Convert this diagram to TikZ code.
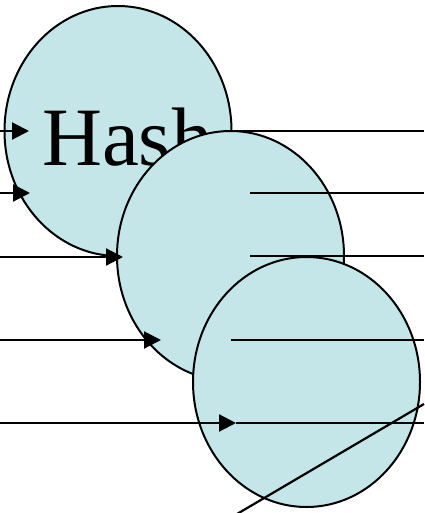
\documentclass[tikz,border=0pt]{standalone}
\usepackage{fontspec}
\setmainfont{Liberation Serif}
\usetikzlibrary{arrows.meta,shapes.geometric}
\definecolor{hashfill}{RGB}{196,230,233}
\begin{document}
\begin{tikzpicture}[x=1pt,y=-1pt,
  hashunit/.style={ellipse,draw=black,line width=2pt,fill=hashfill,
    minimum width=227pt,minimum height=250pt,inner sep=0pt},
  wire/.style={line width=2.2pt},
  feed/.style={wire,-{Triangle[length=17pt,width=17pt]}}]
\useasboundingbox (0,0) rectangle (424,513);

% first hash unit with its two inputs and one output
\node[hashunit] (h1) at (118,131) {};
\node[anchor=base west,inner sep=0pt,font=\fontsize{83}{90}\selectfont] (lbl) at (42,165) {Hash};
\coordinate (i1s) at (0,131);   \coordinate (i1e) at (29,131);
\coordinate (i2s) at (0,193);   \coordinate (i2e) at (30,193);
\coordinate (o1s) at (231,131); \coordinate (o1e) at (424,131);
\draw[feed] (i1s) -- (i1e);
\draw[feed] (i2s) -- (i2e);
\draw[wire] (o1s) -- (o1e);

% second hash unit
\node[hashunit] (h2) at (230.5,256) {};
\coordinate (i3s) at (0,257);   \coordinate (i3e) at (123,257);
\coordinate (i4s) at (0,340);   \coordinate (i4e) at (161,340);
\coordinate (o2s) at (250,193); \coordinate (o2e) at (424,193);
\coordinate (o3s) at (250,256); \coordinate (o3e) at (424,256);
\draw[feed] (i3s) -- (i3e);
\draw[feed] (i4s) -- (i4e);
\draw[wire] (o2s) -- (o2e);
\draw[wire] (o3s) -- (o3e);

% third hash unit
\node[hashunit] (h3) at (306.5,382) {};
\coordinate (i5s) at (0,423);   \coordinate (i5e) at (236,423);
\coordinate (o4s) at (231,340); \coordinate (o4e) at (424,340);
\coordinate (o5e) at (424,423);
\coordinate (d1) at (237,514);  \coordinate (d2) at (424,404);
\draw[wire] (o4s) -- (o4e);
\draw[wire] (i5e) -- (o5e);
\draw[feed] (i5s) -- (i5e);
\draw[wire] (d1) -- (d2);
\end{tikzpicture}
\end{document}
